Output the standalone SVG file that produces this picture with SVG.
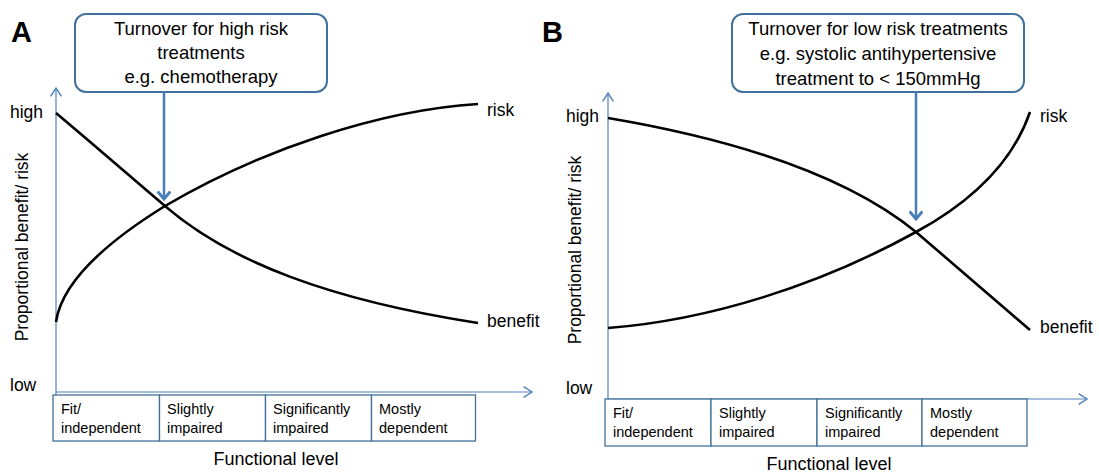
<svg xmlns="http://www.w3.org/2000/svg" width="1099" height="473" viewBox="0 0 1099 473">
<style>
text{font-family:"Liberation Sans",Arial,sans-serif;fill:#000}
.panel{font-size:29px;font-weight:bold}
.call{font-size:18.5px;text-anchor:middle}
.lbl{font-size:17.5px}
.fl{font-size:18px;text-anchor:middle}
.cat{font-size:14.5px}
.callbox{fill:#fff;stroke:#41719c;stroke-width:2}
.catbox{fill:#fff;stroke:#41719c;stroke-width:1.3}
.axis{fill:none;stroke:#4f81bd;stroke-width:1.2}
.curve{fill:none;stroke:#000;stroke-width:2.6}
.conn{fill:none;stroke:#4a7ebb;stroke-width:2.5}
</style>
<defs>
<marker id="ax" markerUnits="userSpaceOnUse" markerWidth="12" markerHeight="12" refX="8" refY="5" orient="auto" viewBox="0 0 10 10">
<path d="M1,0.5 L8,5 L1,9.5" fill="none" stroke="#4f81bd" stroke-width="1.2"/>
</marker>
<marker id="ar" markerUnits="userSpaceOnUse" markerWidth="14" markerHeight="14" refX="8" refY="6" orient="auto" viewBox="0 0 12 12">
<path d="M1.5,0.5 L8,6 L1.5,11.5" fill="none" stroke="#4a7ebb" stroke-width="2.5"/>
</marker>
</defs>

<g id="panelA">
<text class="panel" x="11" y="42">A</text>
<g id="axesA">
<line class="axis" x1="56" y1="395" x2="56" y2="88" marker-end="url(#ax)"/>
<line class="axis" x1="56" y1="392" x2="532" y2="392" marker-end="url(#ax)"/>
</g>
<text class="lbl" x="10" y="118">high</text>
<text class="lbl" x="10" y="391">low</text>
<text class="lbl" transform="translate(28,247) rotate(-90)" text-anchor="middle">Proportional benefit/ risk</text>
<g id="calloutA">
<rect class="callbox" x="75" y="14" width="252" height="78" rx="11"/>
<text class="call" x="201" y="35">Turnover for high risk</text>
<text class="call" x="201" y="59">treatments</text>
<text class="call" x="201" y="83">e.g. chemotherapy</text>
</g>
<g id="catsA">
<rect class="catbox" x="53" y="395" width="106.5" height="46"/>
<rect class="catbox" x="159.5" y="395" width="106" height="46"/>
<rect class="catbox" x="265.5" y="395" width="106" height="46"/>
<rect class="catbox" x="371.5" y="395" width="104" height="46"/>
<text class="cat" x="61" y="414">Fit/</text>
<text class="cat" x="61" y="433">independent</text>
<text class="cat" x="167" y="414">Slightly</text>
<text class="cat" x="167" y="433">impaired</text>
<text class="cat" x="273" y="414">Significantly</text>
<text class="cat" x="273" y="433">impaired</text>
<text class="cat" x="379" y="414">Mostly</text>
<text class="cat" x="379" y="433">dependent</text>
</g>
<text class="fl" x="276" y="465">Functional level</text>
<g id="curvesA">
<path id="benefitA" class="curve" d="M56,113 C100,150 140,185 165,206 C230,262 330,300 478,323"/>
<path id="riskA" class="curve" d="M56,322 C62,280 110,240 165,206 C260,150 380,110 478,104"/>
</g>
<text class="lbl" x="487" y="116">risk</text>
<text class="lbl" x="487" y="327">benefit</text>
</g>

<g id="panelB">
<text class="panel" x="542" y="42">B</text>
<g id="axesB">
<line class="axis" x1="608" y1="400" x2="608" y2="93" marker-end="url(#ax)"/>
<line class="axis" x1="608" y1="399" x2="1087" y2="399" marker-end="url(#ax)"/>
</g>
<text class="lbl" x="566" y="122">high</text>
<text class="lbl" x="566" y="394">low</text>
<text class="lbl" transform="translate(581,250) rotate(-90)" text-anchor="middle">Proportional benefit/ risk</text>
<g id="calloutB">
<rect class="callbox" x="732" y="14" width="292" height="78" rx="11"/>
<text class="call" x="878" y="35">Turnover for low risk treatments</text>
<text class="call" x="878" y="60">e.g. systolic antihypertensive</text>
<text class="call" x="878" y="85">treatment to &lt; 150mmHg</text>
</g>
<g id="catsB">
<rect class="catbox" x="605" y="399" width="106" height="47"/>
<rect class="catbox" x="711" y="399" width="106" height="47"/>
<rect class="catbox" x="817" y="399" width="105" height="47"/>
<rect class="catbox" x="922" y="399" width="105" height="47"/>
<text class="cat" x="613" y="418">Fit/</text>
<text class="cat" x="613" y="437">independent</text>
<text class="cat" x="719" y="418">Slightly</text>
<text class="cat" x="719" y="437">impaired</text>
<text class="cat" x="825" y="418">Significantly</text>
<text class="cat" x="825" y="437">impaired</text>
<text class="cat" x="930" y="418">Mostly</text>
<text class="cat" x="930" y="437">dependent</text>
</g>
<text class="fl" x="829" y="470">Functional level</text>
<g id="curvesB">
<path id="benefitB" class="curve" d="M608,118 C720,137 840,170 916,232 L1030,330"/>
<path id="riskB" class="curve" d="M608,328 C710,320 820,285 916,232 C960,208 1010,170 1030,112"/>
</g>
<text class="lbl" x="1040" y="122">risk</text>
<text class="lbl" x="1040" y="333">benefit</text>
</g>

<g id="connectors">
<line class="conn" x1="164" y1="92" x2="164" y2="199" marker-end="url(#ar)"/>
<line class="conn" x1="916" y1="92" x2="916" y2="219" marker-end="url(#ar)"/>
</g>
</svg>
